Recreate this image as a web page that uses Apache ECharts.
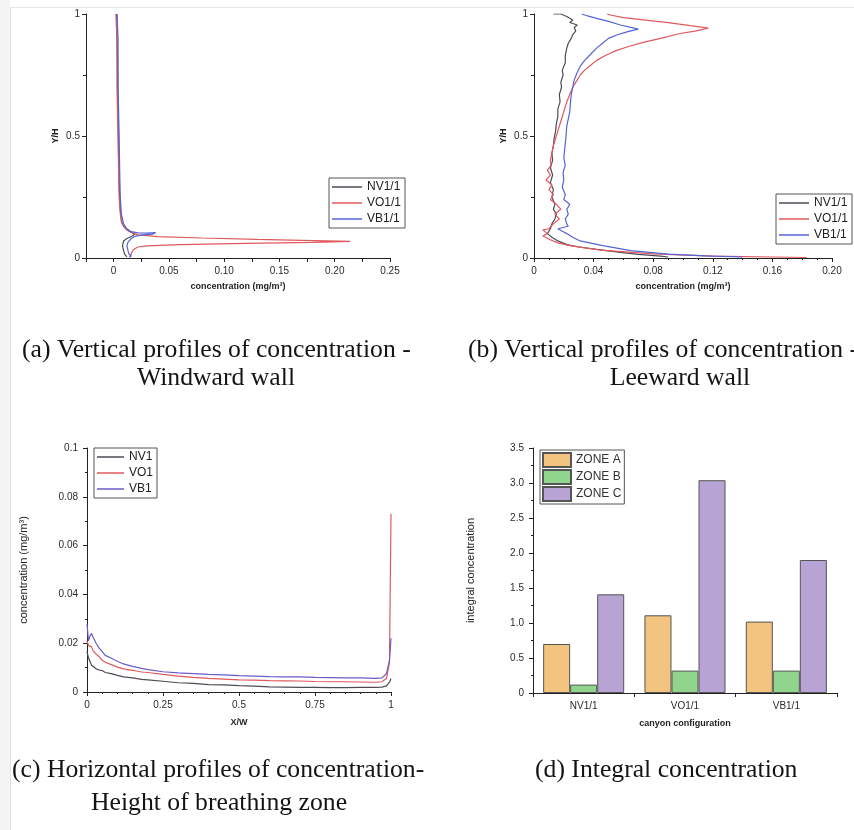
<!DOCTYPE html>
<html><head><meta charset="utf-8">
<script src="https://cdn.jsdelivr.net/npm/echarts@6/dist/echarts.min.js"></script>
<style>html,body{margin:0;padding:0;background:#fff}#c{width:854px;height:830px}</style>
</head><body><div id="c"></div>
<script>
// ---------- DATA ----------
// (a) Windward wall: [concentration, Y/H]
const windNV = [[0.003,1.0],[0.003,0.9],[0.0035,0.8],[0.004,0.6],[0.0045,0.4],[0.005,0.3],[0.006,0.2],[0.007,0.15],[0.009,0.13],[0.012,0.115],[0.016,0.105],[0.019,0.097],[0.017,0.09],[0.012,0.08],[0.009,0.07],[0.008,0.05],[0.009,0.03],[0.01,0.015],[0.012,0.005]];
const windVO = [[0.002,1.0],[0.003,0.9],[0.003,0.7],[0.004,0.5],[0.0045,0.35],[0.005,0.25],[0.006,0.18],[0.008,0.14],[0.011,0.12],[0.016,0.105],[0.022,0.095],[0.04,0.088],[0.08,0.082],[0.13,0.076],[0.18,0.071],[0.214,0.068],[0.18,0.064],[0.12,0.06],[0.06,0.055],[0.03,0.05],[0.022,0.045],[0.018,0.035],[0.016,0.02],[0.015,0.005]];
const windVB = [[0.003,1.0],[0.004,0.9],[0.004,0.7],[0.005,0.5],[0.0055,0.35],[0.006,0.25],[0.007,0.18],[0.009,0.14],[0.012,0.12],[0.016,0.108],[0.022,0.103],[0.03,0.102],[0.038,0.104],[0.035,0.098],[0.025,0.094],[0.02,0.09],[0.016,0.08],[0.013,0.065],[0.012,0.05],[0.013,0.03],[0.014,0.015],[0.016,0.008],[0.014,0.003]];
// (b) Leeward wall: [concentration, Y/H]
const leeNV = [[0.013,1.0],[0.018,1.0],[0.022,0.99],[0.026,0.975],[0.024,0.965],[0.029,0.955],[0.027,0.945],[0.028,0.93],[0.026,0.915],[0.025,0.9],[0.023,0.88],[0.022,0.86],[0.021,0.83],[0.021,0.8],[0.019,0.77],[0.0195,0.75],[0.018,0.72],[0.0185,0.7],[0.017,0.67],[0.0175,0.64],[0.016,0.61],[0.016,0.58],[0.015,0.55],[0.0145,0.52],[0.0135,0.49],[0.013,0.46],[0.012,0.43],[0.0125,0.4],[0.011,0.37],[0.0125,0.34],[0.011,0.31],[0.013,0.28],[0.012,0.25],[0.014,0.22],[0.013,0.2],[0.015,0.18],[0.014,0.16],[0.012,0.14],[0.011,0.12],[0.009,0.1],[0.012,0.085],[0.016,0.07],[0.022,0.055],[0.03,0.045],[0.042,0.035],[0.055,0.025],[0.07,0.015],[0.085,0.008],[0.09,0.004]];
const leeVO = [[0.049,1.0],[0.052,0.995],[0.06,0.985],[0.075,0.975],[0.09,0.965],[0.105,0.952],[0.117,0.942],[0.108,0.93],[0.098,0.92],[0.085,0.9],[0.074,0.885],[0.064,0.868],[0.055,0.85],[0.048,0.83],[0.042,0.81],[0.038,0.79],[0.034,0.77],[0.031,0.75],[0.028,0.72],[0.026,0.7],[0.024,0.67],[0.022,0.64],[0.0205,0.61],[0.019,0.58],[0.0175,0.55],[0.016,0.52],[0.0145,0.49],[0.013,0.46],[0.012,0.43],[0.011,0.4],[0.0115,0.38],[0.009,0.36],[0.011,0.34],[0.008,0.32],[0.012,0.3],[0.01,0.28],[0.013,0.26],[0.011,0.24],[0.015,0.22],[0.018,0.2],[0.014,0.18],[0.017,0.16],[0.013,0.14],[0.01,0.12],[0.006,0.115],[0.009,0.1],[0.006,0.09],[0.011,0.075],[0.016,0.062],[0.025,0.05],[0.045,0.032],[0.08,0.017],[0.12,0.008],[0.16,0.004],[0.183,0.002]];
const leeVB = [[0.032,1.0],[0.036,0.992],[0.042,0.982],[0.05,0.97],[0.058,0.955],[0.065,0.945],[0.07,0.938],[0.063,0.928],[0.056,0.915],[0.05,0.9],[0.046,0.88],[0.042,0.86],[0.038,0.835],[0.034,0.81],[0.031,0.785],[0.029,0.76],[0.027,0.73],[0.026,0.7],[0.025,0.67],[0.0245,0.64],[0.024,0.6],[0.023,0.57],[0.022,0.54],[0.0215,0.5],[0.021,0.47],[0.0205,0.44],[0.02,0.41],[0.021,0.38],[0.0195,0.35],[0.02,0.32],[0.019,0.29],[0.021,0.26],[0.02,0.24],[0.024,0.22],[0.022,0.2],[0.023,0.18],[0.021,0.16],[0.022,0.14],[0.023,0.13],[0.016,0.12],[0.019,0.11],[0.022,0.1],[0.026,0.085],[0.031,0.07],[0.047,0.05],[0.065,0.03],[0.09,0.016],[0.115,0.009],[0.14,0.004]];
// (c) Horizontal profiles: X/W positions and concentrations
const xw   = [0,0.005,0.01,0.015,0.02,0.03,0.04,0.05,0.06,0.08,0.1,0.12,0.15,0.18,0.2,0.25,0.3,0.35,0.4,0.45,0.5,0.55,0.6,0.65,0.7,0.75,0.8,0.85,0.9,0.95,0.97,0.985,0.995,1.0];
const horNV = [0.0165,0.014,0.0135,0.011,0.0105,0.0095,0.009,0.0088,0.008,0.0075,0.0068,0.0062,0.0058,0.0052,0.005,0.0044,0.0038,0.0035,0.003,0.0029,0.0026,0.0024,0.0021,0.002,0.0019,0.0019,0.0018,0.0018,0.0019,0.0019,0.002,0.0025,0.004,0.0055];
const horVO = [0.021,0.019,0.0195,0.0185,0.017,0.0155,0.0145,0.013,0.0122,0.0112,0.0102,0.0095,0.0089,0.0082,0.008,0.0072,0.0065,0.006,0.0056,0.0053,0.005,0.0049,0.0047,0.0046,0.0045,0.0043,0.0042,0.0042,0.0041,0.004,0.0042,0.0055,0.012,0.073];
const horVB = [0.028,0.021,0.023,0.024,0.0225,0.02,0.018,0.0165,0.015,0.0138,0.0126,0.0115,0.0105,0.0097,0.0092,0.0083,0.0078,0.0075,0.0072,0.007,0.0067,0.0065,0.0063,0.0062,0.0062,0.006,0.0059,0.0058,0.0058,0.0056,0.0058,0.0075,0.013,0.022];
// (d) Integral concentration
const configs = ['NV1/1','VO1/1','VB1/1'];
const zoneA = [0.70,1.11,1.02];
const zoneB = [0.12,0.32,0.32];
const zoneC = [1.41,3.04,1.90];
// captions
const captions = ['(a) Vertical profiles of concentration -','Windward wall','(b) Vertical profiles of concentration -','Leeward wall','(c) Horizontal profiles of concentration-','Height of breathing zone','(d) Integral concentration'];

// ---------- STYLE ----------
const cNV='#4d4a55', cVO='#e0585c', cVB='#5564d4';
const cVBc='#6a5cc8';
const lblFont = {color:'#2a2a2a', fontSize:10, fontFamily:'Liberation Sans, Arial'};
function fmt(n){return function(v){return v===0?'0':v.toFixed(n);};}
function baseAxis(extra){
  return Object.assign({
    splitLine:{show:false},
    axisLine:{show:true,onZero:false,lineStyle:{color:'#222',width:1}},
    axisTick:{show:true,length:4,lineStyle:{color:'#222'}},
    minorTick:{show:false},
    axisLabel:Object.assign({},lblFont),
    nameTextStyle:{color:'#222',fontSize:9,fontWeight:'bold',fontFamily:'Liberation Sans, Arial'}
  },extra);
}
const grids=[
  {left:86,top:14,width:304,height:244},
  {left:534,top:14,width:298,height:244},
  {left:87,top:448,width:304,height:244},
  {left:533,top:448,width:304,height:245}
].map(g=>Object.assign(g,{containLabel:false,outerBoundsMode:'none'}));

const xAxes=[
  baseAxis({gridIndex:0,type:'value',min:-0.025,max:0.25,interval:0.025,name:'concentration (mg/m³)',nameLocation:'middle',nameGap:24,
    axisLabel:Object.assign({},lblFont,{margin:8,formatter:function(v){const k=Math.round(v*1000);if(k<0||k%50!==0)return '';return k===0?'0':v.toFixed(2);}})}),
  baseAxis({gridIndex:1,type:'value',min:0,max:0.2,interval:0.04,name:'concentration (mg/m³)',nameLocation:'middle',nameGap:24,
    minorTick:{show:true,splitNumber:4,length:2,lineStyle:{color:'#222'}},
    axisLabel:Object.assign({},lblFont,{margin:8,formatter:fmt(2)})}),
  baseAxis({gridIndex:2,type:'value',min:0,max:1,interval:0.25,name:'X/W',nameLocation:'middle',nameGap:26,
    minorTick:{show:true,splitNumber:5,length:2,lineStyle:{color:'#222'}},
    axisLabel:Object.assign({},lblFont,{margin:8,formatter:function(v){return String(v);}})}),
  baseAxis({gridIndex:3,type:'category',data:configs,name:'canyon configuration',nameLocation:'middle',nameGap:26,
    axisTick:{show:true,length:4,alignWithLabel:false,lineStyle:{color:'#222'}},
    axisLabel:Object.assign({},lblFont,{margin:8})})
];
const yAxes=[
  baseAxis({gridIndex:0,type:'value',min:0,max:1,interval:0.5,name:'Y/H',nameLocation:'middle',nameGap:26,nameRotate:90,
    minorTick:{show:true,splitNumber:2,length:3,lineStyle:{color:'#222'}},
    axisLabel:Object.assign({},lblFont,{margin:6,formatter:function(v){return String(v);}})}),
  baseAxis({gridIndex:1,type:'value',min:0,max:1,interval:0.5,name:'Y/H',nameLocation:'middle',nameGap:26,nameRotate:90,
    minorTick:{show:true,splitNumber:2,length:3,lineStyle:{color:'#222'}},
    axisLabel:Object.assign({},lblFont,{margin:6,formatter:function(v){return String(v);}})}),
  baseAxis({gridIndex:2,type:'value',min:0,max:0.1,interval:0.02,name:'concentration (mg/m³)',nameLocation:'middle',nameGap:58,nameRotate:90,
    nameTextStyle:{color:'#222',fontSize:11,fontFamily:'Liberation Sans, Arial'},
    minorTick:{show:true,splitNumber:2,length:2,lineStyle:{color:'#222'}},
    axisLabel:Object.assign({},lblFont,{margin:9,formatter:function(v){return v===0?'0':String(+v.toFixed(2));}})}),
  baseAxis({gridIndex:3,type:'value',min:0,max:3.5,interval:0.5,name:'integral concentration',nameLocation:'middle',nameGap:57,nameRotate:90,
    nameTextStyle:{color:'#222',fontSize:11,fontFamily:'Liberation Sans, Arial'},
    minorTick:{show:true,splitNumber:2,length:2,lineStyle:{color:'#222'}},
    axisLabel:Object.assign({},lblFont,{margin:9,formatter:fmt(1)})})
];

function lineS(name,data,color,gi){
  return {type:'line',name:name,data:data,xAxisIndex:gi,yAxisIndex:gi,showSymbol:false,symbol:'none',
    lineStyle:{color:color,width:1.2},itemStyle:{color:color},animation:false,clip:true};
}
function pairs(xs,ys){return xs.map((x,i)=>[x,ys[i]]);}
const series=[
  lineS('NV1/1',windNV,cNV,0),lineS('VO1/1',windVO,cVO,0),lineS('VB1/1',windVB,cVB,0),
  lineS('NV1/1',leeNV,cNV,1),lineS('VO1/1',leeVO,cVO,1),lineS('VB1/1',leeVB,cVB,1),
  lineS('NV1',pairs(xw,horNV),cNV,2),lineS('VO1',pairs(xw,horVO),cVO,2),lineS('VB1',pairs(xw,horVB),cVBc,2)
];
const barCols=['#f3c47f','#91d48b','#b7a3d4'];
[['ZONE A',zoneA],['ZONE B',zoneB],['ZONE C',zoneC]].forEach((z,i)=>{
  series.push({type:'bar',name:z[0],data:z[1],xAxisIndex:3,yAxisIndex:3,barCategoryGap:'20%',barGap:'0%',animation:false,
    itemStyle:{color:barCols[i],borderColor:'#555',borderWidth:1}});
});

const legText={fontSize:12,color:'#222',fontFamily:'Liberation Sans, Arial',lineHeight:12};
function lineLegend(left,top,names,w){
  return {orient:'vertical',left:left,top:top,data:names,icon:'rect',itemWidth:w,itemHeight:1.5,itemGap:4,itemTextGap:4,
    padding:[3,4,3,3],borderColor:'#555',borderWidth:1,backgroundColor:'#fff',textStyle:legText,selectedMode:false};
}
const legends=[
  lineLegend(329,178,['NV1/1','VO1/1','VB1/1'],30),
  lineLegend(776,194,['NV1/1','VO1/1','VB1/1'],30),
  lineLegend(94,448,['NV1','VO1','VB1'],27),
  {orient:'vertical',left:540,top:450,data:['ZONE A','ZONE B','ZONE C'],icon:'rect',itemWidth:28,itemHeight:14,itemGap:1,itemTextGap:4,
   padding:[2,3,2,2],borderColor:'#555',borderWidth:1,backgroundColor:'#fff',textStyle:{fontSize:12,color:'#333',fontFamily:'Liberation Sans, Arial'},selectedMode:false}
];

function cap(t,x,y,al){
  return {type:'text',silent:true,style:{text:t,x:x,y:y,font:'25.7px "Liberation Serif", "Times New Roman", serif',fill:'#141414',
    textAlign:al,textVerticalAlign:'middle',align:al,verticalAlign:'middle'}};
}
const graphic=[
  {type:'rect',silent:true,shape:{x:0,y:0,width:10,height:830},style:{fill:'#f4f4f4'}},
  {type:'line',silent:true,shape:{x1:10.5,y1:7,x2:10.5,y2:830},style:{stroke:'#e2e2e2',lineWidth:1}},
  {type:'line',silent:true,shape:{x1:11,y1:7.5,x2:854,y2:7.5},style:{stroke:'#e6e6e6',lineWidth:1}},
  cap(captions[0],22,350,'left'),
  cap(captions[1],216,378,'center'),
  cap(captions[2],468,350,'left'),
  cap(captions[3],680,378,'center'),
  cap(captions[4],12,770,'left'),
  cap(captions[5],219,803,'center'),
  cap(captions[6],535,770,'left')
];

const chart=echarts.init(document.getElementById('c'),null,{renderer:'canvas'});
chart.setOption({backgroundColor:'#fff',animation:false,grid:grids,xAxis:xAxes,yAxis:yAxes,series:series,legend:legends,graphic:graphic});
</script></body></html>
